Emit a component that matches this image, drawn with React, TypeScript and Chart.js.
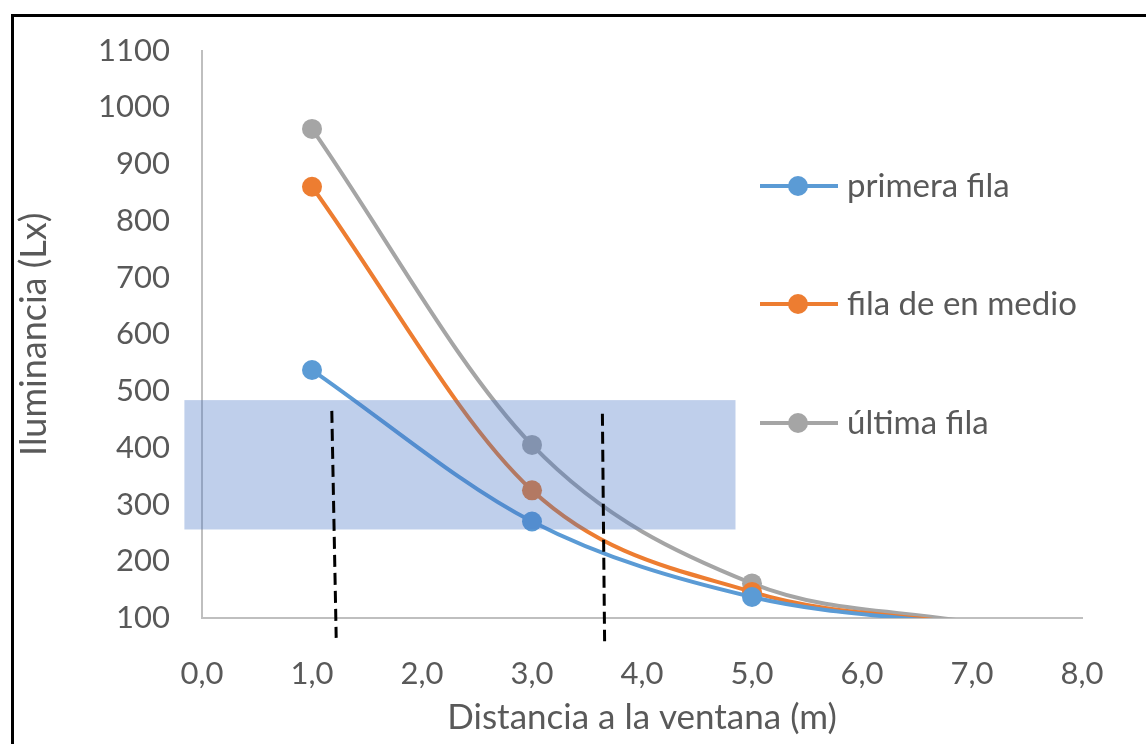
import React, { useEffect, useRef } from "react";
import { Chart, registerables } from "chart.js";

Chart.register(...registerables);

// ---- data ----
const distances = [1, 3, 5, 7];
const primeraFila = [537, 270, 137, 87];
const filaDeEnMedio = [860, 325, 146, 88];
const ultimaFila = [962, 405, 161, 92];
const seriesLabels = ["primera fila", "fila de en medio", "última fila"];
const seriesColors = ["#5B9BD5", "#ED7D31", "#A5A5A5"];
const xTickLabels = ["0,0", "1,0", "2,0", "3,0", "4,0", "5,0", "6,0", "7,0", "8,0"];
const yTickValues = [100, 200, 300, 400, 500, 600, 700, 800, 900, 1000, 1100];

// highlighted band (x from/to, y from/to, data units)
const bandX = [-0.16, 4.85];
const bandY = [256, 484];
// dashed reference lines: [xTop, yTop, xBottom, yBottom]
const dashedLine1 = [1.18, 465, 1.22, 65];
const dashedLine2 = [3.64, 460, 3.66, 59];

const FONT = "Lato, 'Open Sans', sans-serif";
const TEXT = "#595959";

const overlayPlugin = {
  id: "overlay",
  beforeDraw(chart: any) {
    const ctx = chart.ctx;
    ctx.save();
    ctx.strokeStyle = "#000";
    ctx.lineWidth = 3;
    ctx.strokeRect(12.5, 15.5, 1200, 900);
    ctx.restore();
  },
  afterDatasetsDraw(chart: any) {
    const ctx = chart.ctx;
    const xs = chart.scales.x;
    const ys = chart.scales.y;
    ctx.save();
    // band
    const x0 = xs.getPixelForValue(bandX[0]);
    const x1 = xs.getPixelForValue(bandX[1]);
    const y0 = ys.getPixelForValue(bandY[1]);
    const y1 = ys.getPixelForValue(bandY[0]);
    ctx.fillStyle = "rgba(68,114,196,0.34)";
    ctx.fillRect(x0, y0, x1 - x0, y1 - y0);
    // dashed lines
    ctx.strokeStyle = "#000";
    ctx.lineWidth = 3;
    ctx.setLineDash([12, 6]);
    for (const l of [dashedLine1, dashedLine2]) {
      ctx.beginPath();
      ctx.moveTo(xs.getPixelForValue(l[0]), ys.getPixelForValue(l[1]));
      ctx.lineTo(xs.getPixelForValue(l[2]), ys.getPixelForValue(l[3]));
      ctx.stroke();
    }
    ctx.setLineDash([]);
    // legend
    const area = chart.chartArea;
    const lx = area.left + 558;
    const rows = [186, 304, 423];
    chart.data.datasets.forEach((ds: any, i: number) => {
      const y = rows[i];
      ctx.strokeStyle = ds.borderColor;
      ctx.lineWidth = 4;
      ctx.beginPath();
      ctx.moveTo(lx, y);
      ctx.lineTo(lx + 78, y);
      ctx.stroke();
      ctx.fillStyle = ds.borderColor;
      ctx.beginPath();
      ctx.arc(lx + 38, y, 10, 0, Math.PI * 2);
      ctx.fill();
      ctx.fillStyle = TEXT;
      ctx.font = `33px ${FONT}`;
      ctx.textBaseline = "middle";
      ctx.textAlign = "left";
      ctx.fillText(ds.label, lx + 87, y);
    });
    ctx.restore();
  },
};

export default function App() {
  const ref = useRef<HTMLCanvasElement>(null);
  useEffect(() => {
    const mk = (vals: number[], i: number) => ({
      label: seriesLabels[i],
      data: distances.map((d, k) => ({ x: d, y: vals[k] })),
      borderColor: seriesColors[i],
      backgroundColor: seriesColors[i],
      borderWidth: 4,
      pointRadius: distances.map((d, k) => (k === distances.length - 1 ? 0 : 10)),
      pointBorderWidth: 0,
      pointHoverRadius: 0,
      cubicInterpolationMode: "monotone",
      clip: 0,
    });
    const chart = new Chart(ref.current!, {
      type: "line",
      data: {
        datasets: [mk(primeraFila, 0), mk(filaDeEnMedio, 1), mk(ultimaFila, 2)],
      },
      plugins: [overlayPlugin],
      options: {
        animation: false,
        responsive: false,
        events: [],
        layout: { padding: { left: 13, top: 48, right: 64, bottom: 5 } },
        plugins: { legend: { display: false }, tooltip: { enabled: false } },
        scales: {
          x: {
            type: "linear",
            min: 0,
            max: 8,
            afterBuildTicks: (s: any) => {
              s.ticks = xTickLabels.map((_, i) => ({ value: i }));
            },
            afterFit: (s: any) => {
              s.height = 744 - 5 - 618;
            },
            grid: { display: false, drawTicks: false },
            border: { display: true, color: "#BFBFBF", width: 2 },
            ticks: {
              autoSkip: false,
              maxRotation: 0,
              padding: 37,
              color: TEXT,
              font: { family: FONT, size: 31 },
              callback: (_v: any, i: number) => xTickLabels[i],
            },
            title: {
              display: true,
              text: "Distancia a la ventana (m)",
              color: TEXT,
              font: { family: FONT, size: 35 },
              padding: 0,
            },
          },
          y: {
            type: "linear",
            min: 100,
            max: 1100,
            afterBuildTicks: (s: any) => {
              s.ticks = yTickValues.map((v) => ({ value: v }));
            },
            afterFit: (s: any) => {
              s.width = 202 - 13;
            },
            grid: { display: false, drawTicks: false },
            border: { display: true, color: "#BFBFBF", width: 2 },
            ticks: {
              autoSkip: false,
              padding: 32,
              color: TEXT,
              font: { family: FONT, size: 31 },
              callback: (v: any) => String(v),
            },
            title: {
              display: true,
              text: "Iluminancia (Lx)",
              color: TEXT,
              font: { family: FONT, size: 36 },
              padding: 0,
            },
          },
        },
      },
    } as any);
    return () => chart.destroy();
  }, []);
  return (
    <div style={{ position: "absolute", left: 0, top: 0, width: 1146, height: 744, background: "#fff" }}>
      <canvas ref={ref} width={1146} height={744} style={{ display: "block" }} />
    </div>
  );
}
